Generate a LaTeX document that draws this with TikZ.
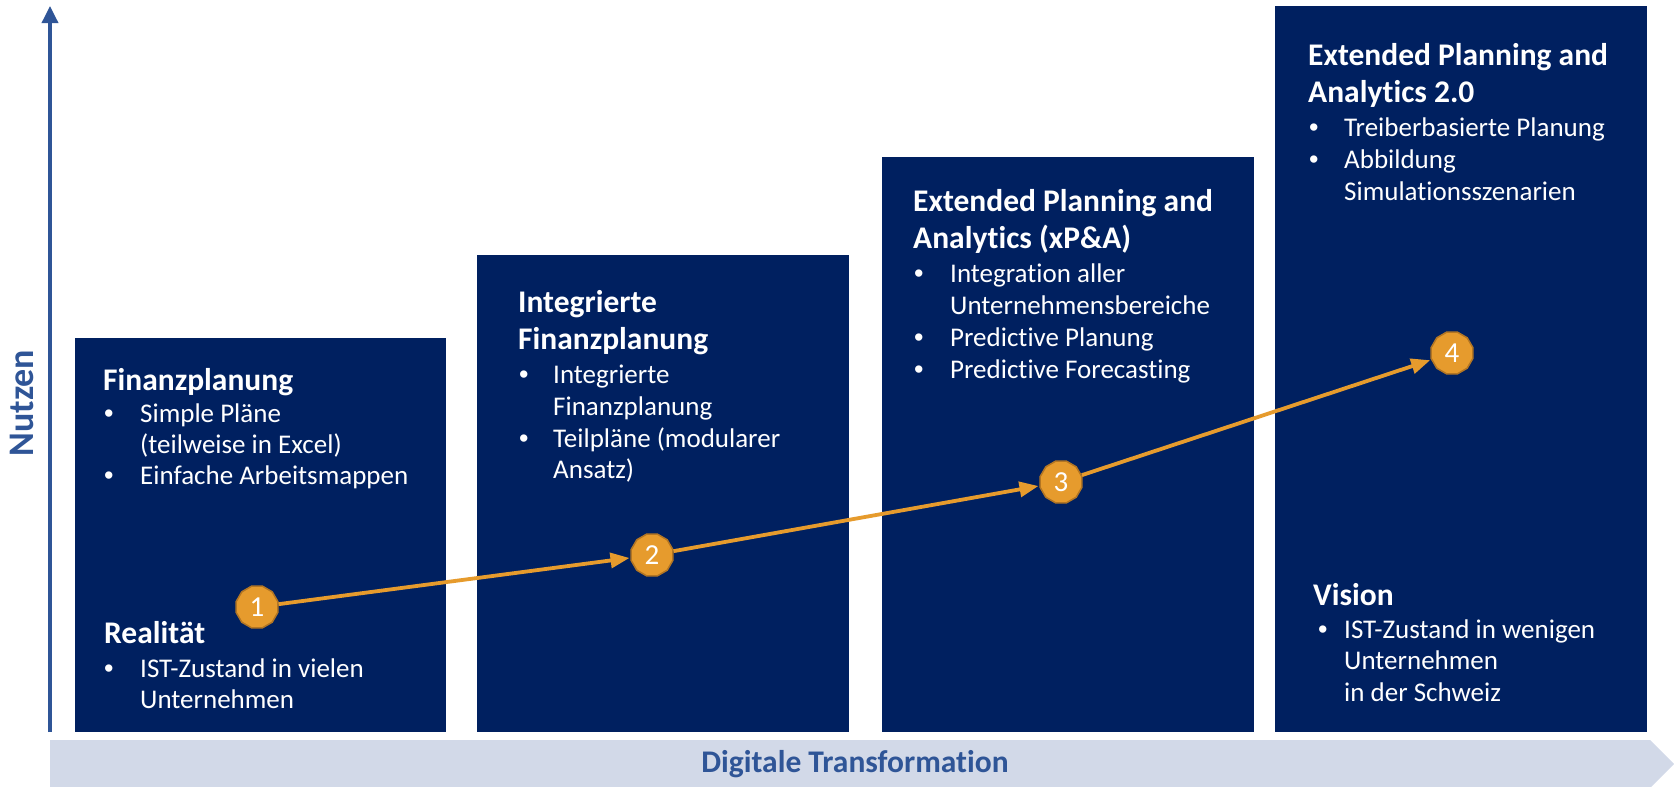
\documentclass[tikz,border=0pt]{standalone}
\usepackage{fontspec}
\setmainfont{Carlito}[Ligatures={NoCommon,NoContextual},Contextuals=NoAlternate]
\newfontfamily\bulletfont{Liberation Sans}
\usetikzlibrary{shapes.geometric,arrows.meta}
\definecolor{navy}{HTML}{002060}
\definecolor{axisblue}{HTML}{2F5597}
\definecolor{band}{HTML}{D2D9E8}
\definecolor{orng}{HTML}{E69B2D}
\definecolor{orngdark}{HTML}{B27523}
\tikzset{
  stagebox/.style={fill=navy, draw=none, anchor=north west, inner sep=0pt},
  ttl/.style={anchor=base west, inner sep=0pt, text=white, font=\fontsize{31.5}{37}\selectfont\bfseries},
  bodytxt/.style={anchor=base west, inner sep=0pt, text=white, font=\fontsize{27}{32}\selectfont},
  bul/.style={anchor=base west, inner sep=0pt, text=white, font=\bulletfont\fontsize{27}{32}\selectfont},
  badge/.style={regular polygon, regular polygon sides=12, minimum size=43pt, inner sep=0pt,
    fill=orng, draw=orngdark, line width=1.5pt, text=white, font=\fontsize{29}{30}\selectfont},
  flow/.style={draw=orng, line width=3.8pt, -{Triangle[length=19pt,width=15pt]}, shorten >=1pt},
}
\begin{document}
\begin{tikzpicture}[x=1pt,y=-1pt]
\useasboundingbox (0,0) rectangle (1674,787);
% axes
\fill[band] (50,740) -- (1650,740) -- (1674,764) -- (1650,788) -- (50,788) -- cycle;
\node[text=axisblue, font=\fontsize{31.5}{37}\selectfont\bfseries] (xlab) at (855,764) {Digitale Transformation};
\coordinate (ybot) at (50,732);
\coordinate (ytop) at (50,6);
\draw[axisblue, line width=3.5pt, -{Triangle[length=17pt,width=16pt]}] (ybot) -- (ytop);
\node[text=axisblue, font=\fontsize{36}{40}\selectfont\bfseries, rotate=90] (ylab) at (22,403) {Nutzen};
% boxes
\node[stagebox, minimum width=371pt, minimum height=394pt] (box1) at (75,338) {};
\node[stagebox, minimum width=372pt, minimum height=477pt] (box2) at (477,255) {};
\node[stagebox, minimum width=372pt, minimum height=575pt] (box3) at (882,157) {};
\node[stagebox, minimum width=372pt, minimum height=726pt] (box4) at (1275,6) {};
% box 1
\node[ttl] (t1) at (103,390) {Finanzplanung};
\node[bul] (b1a) at (104,422) {•};
\node[bodytxt] (l1a) at (140,422) {Simple Pläne};
\node[bodytxt] (l1b) at (140,453) {(teilweise in Excel)};
\node[bul] (b1b) at (104,484) {•};
\node[bodytxt] (l1c) at (140,484) {Einfache Arbeitsmappen};
\node[ttl] (r1) at (104,643) {Realität};
\node[bul] (b1c) at (104,677) {•};
\node[bodytxt] (l1d) at (140,677) {IST-Zustand in vielen};
\node[bodytxt] (l1e) at (140,708) {Unternehmen};
% box 2
\node[ttl] (t2a) at (518,312) {Integrierte};
\node[ttl] (t2b) at (518,349) {Finanzplanung};
\node[bul] (b2a) at (519,383) {•};
\node[bodytxt] (l2a) at (553,383) {Integrierte};
\node[bodytxt] (l2b) at (553,415) {Finanzplanung};
\node[bul] (b2b) at (519,447) {•};
\node[bodytxt] (l2c) at (553,447) {Teilpläne (modularer};
\node[bodytxt] (l2d) at (553,478) {Ansatz)};
% box 3
\node[ttl] (t3a) at (913,211) {Extended Planning and};
\node[ttl] (t3b) at (913,248) {Analytics (xP\&A)};
\node[bul] (b3a) at (914,282) {•};
\node[bodytxt] (l3a) at (950,282) {Integration aller};
\node[bodytxt] (l3b) at (950,314) {Unternehmensbereiche};
\node[bul] (b3b) at (914,346) {•};
\node[bodytxt] (l3c) at (950,346) {Predictive Planung};
\node[bul] (b3c) at (914,378) {•};
\node[bodytxt] (l3d) at (950,378) {Predictive Forecasting};
% box 4
\node[ttl] (t4a) at (1308,65) {Extended Planning and};
\node[ttl] (t4b) at (1308,102) {Analytics 2.0};
\node[bul] (b4a) at (1309,136) {•};
\node[bodytxt] (l4a) at (1344,136) {Treiberbasierte Planung};
\node[bul] (b4b) at (1309,168) {•};
\node[bodytxt] (l4b) at (1344,168) {Abbildung};
\node[bodytxt] (l4c) at (1344,200) {Simulationsszenarien};
\node[ttl] (v4) at (1313,605) {Vision};
\node[bul] (b4c) at (1318,638) {•};
\node[bodytxt] (l4d) at (1344,638) {IST-Zustand in wenigen};
\node[bodytxt] (l4e) at (1344,669) {Unternehmen};
\node[bodytxt] (l4f) at (1344,701) {in der Schweiz};
% badges and flow
\node[badge] (n1) at (257,607) {1};
\node[badge] (n2) at (652,555) {2};
\node[badge] (n3) at (1061,482) {3};
\node[badge] (n4) at (1452,353) {4};
\draw[flow] (n1) -- (n2);
\draw[flow] (n2) -- (n3);
\draw[flow] (n3) -- (n4);
\end{tikzpicture}
\end{document}
